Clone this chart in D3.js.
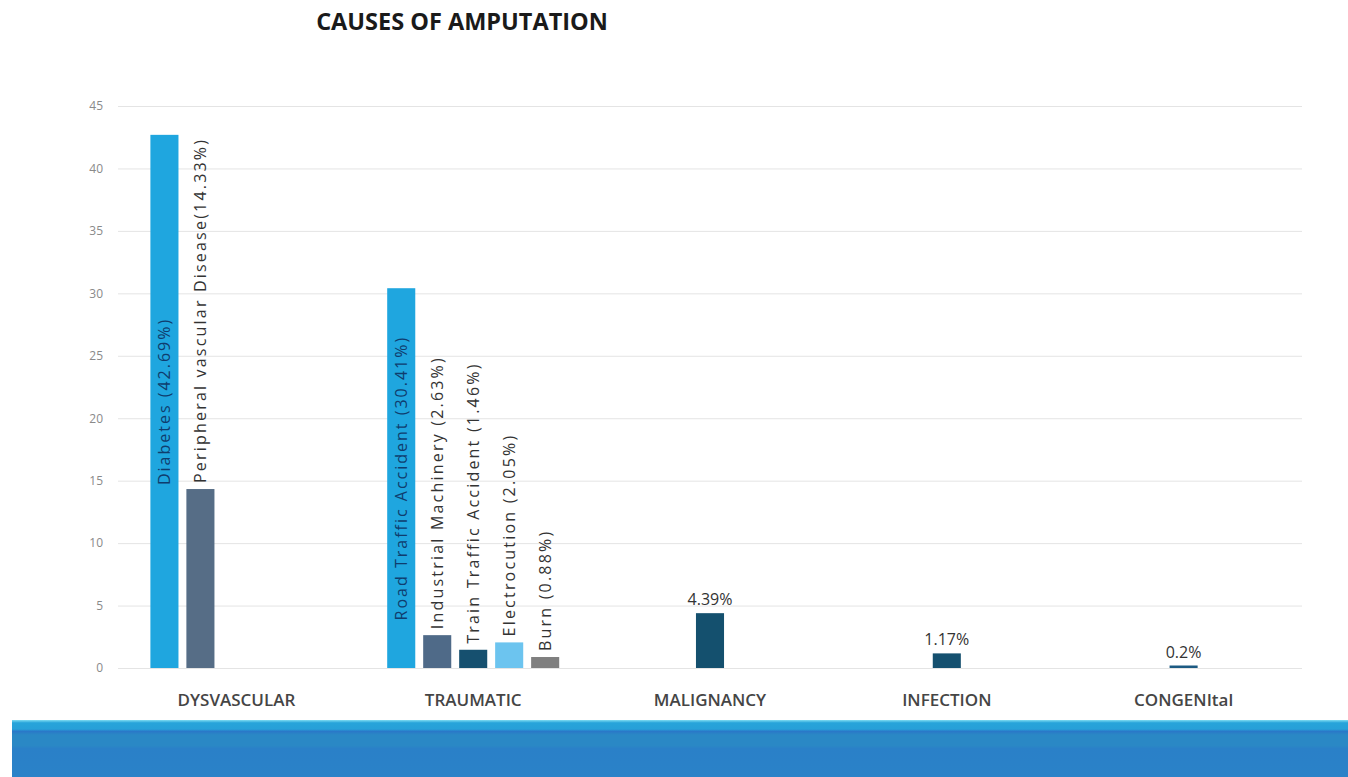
<!DOCTYPE html>
<html>
<head>
<meta charset="UTF-8"/>
<title>Causes of Amputation</title>
<script src="https://d3js.org/d3.v7.min.js"></script>
<style>
body { margin: 0; background: #ffffff; }
svg text { font-family: "Open Sans", "DejaVu Sans", sans-serif; }
</style>
</head>
<body>
<div id="chart"></div>
<script>

// DATA
var categories = ["DYSVASCULAR", "TRAUMATIC", "MALIGNANCY", "INFECTION", "CONGENItal"];
var barNames = ["Diabetes", "Peripheral vascular Disease", "Road Traffic Accident",
    "Industrial Machinery", "Train Traffic Accident", "Electrocution", "Burn",
    "Malignancy", "Infection", "Congenital"];
var barCategory = [0, 0, 1, 1, 1, 1, 1, 2, 3, 4];
var barSlot = [0, 1, 0, 1, 2, 3, 4, 2, 2, 2];
var barValues = [42.69, 14.33, 30.41, 2.63, 1.46, 2.05, 0.88, 4.39, 1.17, 0.2];
var barLabels = ["Diabetes (42.69%)", "Peripheral vascular Disease(14.33%)",
    "Road Traffic Accident (30.41%)", "Industrial Machinery (2.63%)",
    "Train Traffic Accident (1.46%)", "Electrocution (2.05%)", "Burn (0.88%)",
    "4.39%", "1.17%", "0.2%"];
// label mode: "inside" rotated in bar, "above" rotated over bar, "value" flat over bar
var labelMode = ["inside", "above", "inside", "above", "above", "above", "above",
    "value", "value", "value"];
var barColors = ["#1fa6df", "#566d86", "#1fa6df", "#4f6a88", "#16506f", "#6cc4ef",
    "#7f7f7f", "#14506e", "#15506f", "#1d5a82"];
var yTicks = [0, 5, 10, 15, 20, 25, 30, 35, 40, 45];

// MAIN
var W = 1348, H = 777;
var svg = d3.select("#chart").append("svg")
    .attr("width", W)
    .attr("height", H);

var x = d3.scaleBand().domain(d3.range(categories.length)).range([118, 1302]);
var slot = d3.scaleBand().domain(d3.range(5)).range([-86, 86]).paddingInner(0.22);
var y = d3.scaleLinear().domain([0, 45]).range([668, 106]);

// title
svg.append("text")
    .attr("x", 462)
    .attr("y", 30)
    .attr("text-anchor", "middle")
    .attr("font-size", 23.5)
    .attr("font-weight", 700)
    .attr("fill", "#1a1a1a")
    .text("CAUSES OF AMPUTATION");

// gridlines + y axis labels
var yAxis = d3.axisLeft(y).tickValues(yTicks).tickSize(-(1302 - 118)).tickPadding(15);
var gy = svg.append("g").attr("transform", "translate(118,0)").call(yAxis);
gy.select(".domain").remove();
gy.selectAll(".tick line").attr("stroke", "#e4e4e4");
gy.selectAll(".tick text")
    .attr("fill", "#8a8a8a")
    .attr("font-size", 12)
    .style("font-family", "\"Open Sans\", sans-serif");

// x axis labels
var xAxis = d3.axisBottom(x).tickSize(0).tickPadding(0).tickFormat(function(i) { return categories[i]; });
var gx = svg.append("g").attr("transform", "translate(0,700)").call(xAxis);
gx.select(".domain").remove();
gx.selectAll(".tick text")
    .attr("dy", "0.35em")
    .attr("fill", "#454545")
    .attr("font-size", 17)
    .attr("font-weight", 600)
    .style("font-family", "\"Open Sans\", sans-serif");

// bars
function barX(i) {
    return x(barCategory[i]) + x.bandwidth() / 2 + slot(barSlot[i]);
}

barValues.forEach(function(v, i) {
    var bx = barX(i);
    var barTop = y(v);
    svg.append("rect")
        .attr("x", bx)
        .attr("y", barTop)
        .attr("width", slot.bandwidth())
        .attr("height", y(0) - barTop)
        .attr("fill", barColors[i]);

    var cx = bx + slot.bandwidth() / 2;
    if (labelMode[i] == "value") {
        svg.append("text")
            .attr("x", cx)
            .attr("y", barTop - 8)
            .attr("text-anchor", "middle")
            .attr("font-size", 16)
            .attr("fill", "#333333")
            .text(barLabels[i]);
    } else if (labelMode[i] == "inside") {
        var my = (barTop + y(0)) / 2;
        svg.append("text")
            .attr("transform", "translate(" + (cx + 6) + "," + my + ") rotate(-90)")
            .attr("text-anchor", "middle")
            .attr("font-size", 16)
            .attr("letter-spacing", 2)
            .attr("fill", "#0f3d6e")
            .text(barLabels[i]);
    } else {
        svg.append("text")
            .attr("transform", "translate(" + (cx + 6) + "," + (barTop - 6) + ") rotate(-90)")
            .attr("text-anchor", "start")
            .attr("font-size", 16)
            .attr("letter-spacing", 2.2)
            .attr("fill", "#333333")
            .text(barLabels[i]);
    }
});

// footer band
var grad = svg.append("defs").append("linearGradient")
    .attr("id", "band")
    .attr("x1", 0).attr("y1", 0).attr("x2", 0).attr("y2", 1);
grad.append("stop").attr("offset", "0").attr("stop-color", "#7fdcf2");
grad.append("stop").attr("offset", "0.05").attr("stop-color", "#27a4da");
grad.append("stop").attr("offset", "0.16").attr("stop-color", "#27a0d8");
grad.append("stop").attr("offset", "0.2").attr("stop-color", "#2a78c8");
grad.append("stop").attr("offset", "0.26").attr("stop-color", "#2a88c5");
grad.append("stop").attr("offset", "0.45").attr("stop-color", "#2a88c5");
grad.append("stop").attr("offset", "0.5").attr("stop-color", "#2a80c8");
grad.append("stop").attr("offset", "1").attr("stop-color", "#2a82c8");

svg.append("rect")
    .attr("x", 12)
    .attr("y", 720)
    .attr("width", W - 12)
    .attr("height", H - 720)
    .attr("fill", "url(#band)");
</script>
</body>
</html>
